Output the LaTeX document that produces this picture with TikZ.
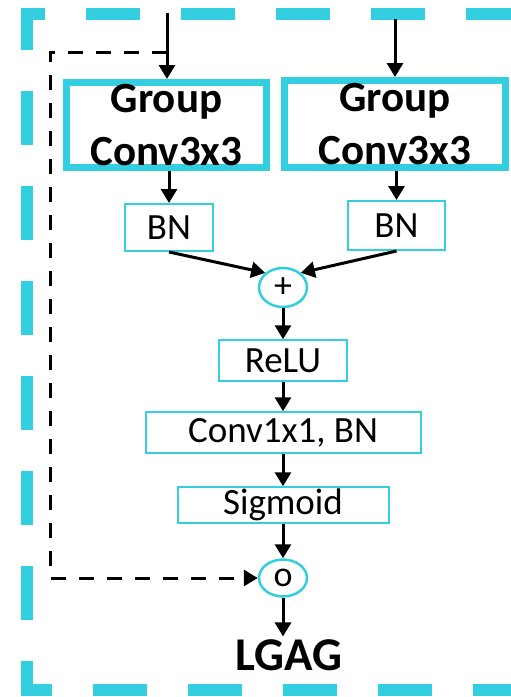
\documentclass[tikz,border=0pt]{standalone}
\usepackage{fontspec}
\setmainfont{Carlito}
\usepackage{tikz}
\usetikzlibrary{shapes.geometric,arrows.meta,positioning,calc}
\definecolor{lgagcyan}{RGB}{51,206,224}

\begin{document}
\begin{tikzpicture}[x=1pt, y=1pt,
    gconv/.style={rectangle, draw=lgagcyan, line width=7pt, align=center,
        font=\fontsize{43}{53}\selectfont\bfseries, inner sep=0pt},
    block/.style={rectangle, draw=lgagcyan, line width=2pt, inner sep=0pt,
        font=\fontsize{37}{44}\selectfont},
    op/.style={ellipse, draw=lgagcyan, line width=2.5pt, inner sep=0pt,
        minimum width=48pt, font=\fontsize{36}{40}\selectfont},
    arr/.style={-{Triangle[length=14pt,width=16pt]}, line width=3pt, black},
    skip/.style={-{Triangle[length=14pt,width=16pt]}, line width=3pt, black,
        dash pattern=on 15pt off 13pt}
]
    \useasboundingbox (0,0) rectangle (511,-697);

    % Outer frame (runs past the right edge)
    \draw[lgagcyan, line width=12pt, dash pattern=on 54pt off 41pt, dash phase=2pt]
        (620,-690) -- (27,-690) -- (27,-13.5) -- (620,-13.5);

    % Two group conv branches
    \node[gconv, minimum width=200pt, minimum height=85pt] (g1) at (166.5,-125) {Group\\Conv3x3};
    \node[gconv, minimum width=221pt, minimum height=87pt] (g2) at (395,-124) {Group\\Conv3x3};
    \node[block, minimum width=88pt, minimum height=47pt] (bn1) at (169,-227.5) {BN};
    \node[block, minimum width=97pt, minimum height=49pt] (bn2) at (396.5,-225.5) {BN};

    % Merge and gate
    \node[op, minimum height=39pt] (add) at (283,-287.5) {+};
    \node[block, minimum width=128pt, minimum height=41pt, below=31pt of add] (relu) {ReLU};
    \node[block, minimum width=275pt, minimum height=41pt, below=29pt of relu] (conv) {Conv1x1, BN};
    \node[block, minimum width=211pt, minimum height=36pt, below=32pt of conv] (sig) {Sigmoid};
    \node[op, minimum height=37pt, below=34pt of sig] (mul) {o};

    % Output
    \node[font=\fontsize{47}{50}\selectfont\bfseries, inner sep=2.5pt, anchor=base]
        (lgag) at (289,-670) {LGAG};

    % Inputs
    \coordinate (in1) at (167,-13);
    \coordinate (in2) at (395,-19);
    \coordinate (tap) at (167,-52);

    % Arrows
    \draw[arr] (in1) -- (in1 |- g1.north);
    \draw[arr] (in2) -- (in2 |- g2.north);
    \draw[arr] (g1.south -| bn1.north) -- (bn1.north);
    \draw[arr] (g2.south -| bn2.north) -- (bn2.north);
    \draw[arr] (bn1.south) -- (add.north west);
    \draw[arr] (bn2.south) -- (add.north east);
    \draw[arr] (add) -- (relu);
    \draw[arr] (relu) -- (conv);
    \draw[arr] (conv) -- (sig);
    \draw[arr] (sig) -- (mul);
    \draw[arr] (mul.south) -- (mul.south |- lgag.north);

    % Skip from the input to the gate
    \draw[skip] (tap) -- ++(-117,0) |- (mul.west);
\end{tikzpicture}
\end{document}
